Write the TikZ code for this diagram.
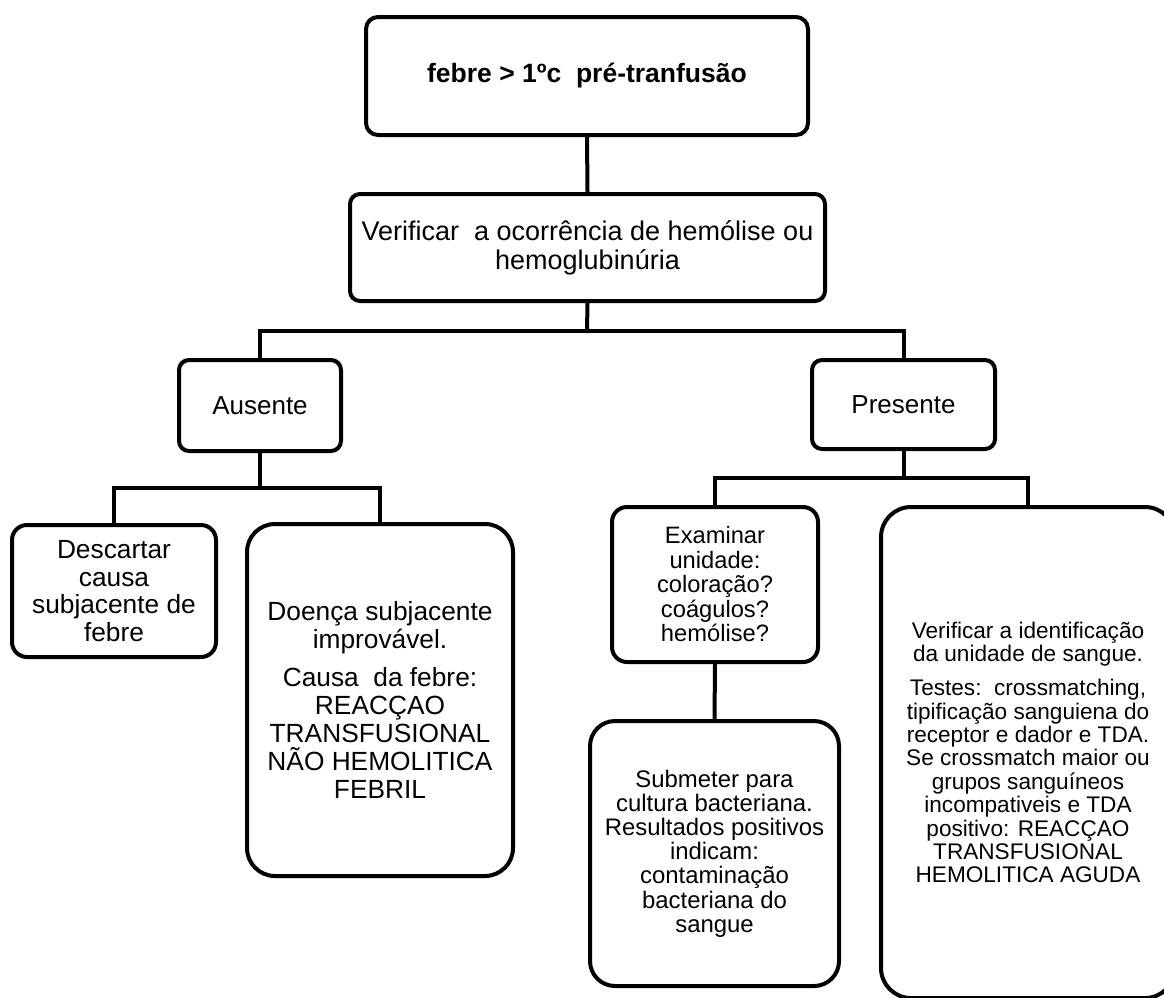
\documentclass[tikz,border=0pt]{standalone}
\usepackage{fontspec}
\setmainfont{Liberation Sans}
\begin{document}
\begin{tikzpicture}[x=1pt,y=-1pt,
  box/.style={draw, line width=4pt, align=center, inner sep=0pt, shape=rectangle},
  conn/.style={line width=4pt, line cap=rect}]
\useasboundingbox (0,0) rectangle (1164,997);
\clip (0,0) rectangle (1164,997);
\fill[white] (0,0) rectangle (1164,997);

\node[box, rounded corners=12pt, minimum width=442pt, minimum height=118pt,
      font=\fontsize{26.5}{30}\selectfont\bfseries] (top) at (587,76)
      {febre > 1ºc\ \ pré-tranfusão};
\node[box, rounded corners=10pt, minimum width=475pt, minimum height=107pt,
      font=\fontsize{27}{29}\selectfont] (verify) at (587.5,247.5)
      {Verificar\ \ a ocorrência de hemólise ou\\hemoglubinúria};

\node[box, rounded corners=10pt, minimum width=162pt, minimum height=91pt,
      font=\fontsize{26}{28}\selectfont] (ausente) at (260,405.5) {Ausente};
\node[box, rounded corners=10pt, minimum width=183pt, minimum height=89pt,
      font=\fontsize{26}{28}\selectfont] (presente) at (903.5,404.5) {Presente};

\node[box, rounded corners=15pt, minimum width=204pt, minimum height=132pt,
      font=\fontsize{26.3}{27.5}\selectfont] (descartar) at (114,591)
      {Descartar\\causa\\subjacente de\\febre};
\node[box, rounded corners=28pt, minimum width=266pt, minimum height=352pt,
      font=\fontsize{26.3}{28}\selectfont] (doenca) at (380,700)
      {Doença subjacente\\improvável.\\[10pt]Causa\ \ da febre:\\REACÇAO\\TRANSFUSIONAL\\NÃO HEMOLITICA\\FEBRIL};

\node[box, rounded corners=15pt, minimum width=206pt, minimum height=155pt,
      font=\fontsize{23.7}{24.5}\selectfont] (examinar) at (715,584.5)
      {Examinar\\unidade:\\coloração?\\coágulos?\\hemólise?};
\node[box, rounded corners=25pt, minimum width=249pt, minimum height=265pt,
      font=\fontsize{23.9}{24.2}\selectfont] (submeter) at (714.5,853.5)
      {Submeter para\\cultura bacteriana.\\Resultados positivos\\indicam:\\contaminação\\bacteriana do\\sangue};
\node[box, rounded corners=30pt, minimum width=294pt, minimum height=491pt,
      font=\fontsize{22.6}{23.4}\selectfont] (right) at (1028,752.5)
      {Verificar a identificação\\da unidade de sangue.\\[10.5pt]Testes:\ \ crossmatching,\\tipificação sanguiena do\\receptor e dador e TDA.\\Se crossmatch maior ou\\grupos sanguíneos\\incompativeis e TDA\\positivo: REACÇAO\\TRANSFUSIONAL\\HEMOLITICA AGUDA};

\coordinate (j1) at (587,331);
\coordinate (j2) at (260,488);
\coordinate (j3) at (903.5,478);

\draw[conn] (top.south) -- (verify.north);
\draw[conn] (verify.south) -- (j1);
\draw[conn] (ausente.north) |- (j1) -| (presente.north);
\draw[conn] (ausente.south) -- (j2);
\draw[conn] (descartar.north) |- (j2) -| (doenca.north);
\draw[conn] (presente.south) -- (j3);
\draw[conn] (examinar.north) |- (j3) -| (right.north);
\draw[conn] (examinar.south) -- (submeter.north);
\end{tikzpicture}
\end{document}
